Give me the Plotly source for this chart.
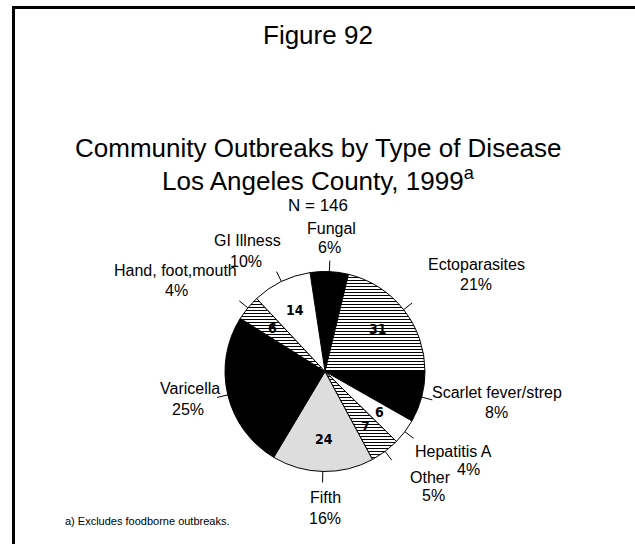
import math
import plotly.graph_objects as go

# ---------------- data ----------------
categories = ["Fungal", "Ectoparasites", "Scarlet fever/strep", "Hepatitis A",
              "Other", "Fifth", "Varicella", "Hand, foot,mouth", "GI Illness"]
counts = [9, 31, 12, 6, 7, 24, 37, 6, 14]
total_n = 146

# ---------------- styles ----------------
fill_colors = ["black", "white", "black", "white", "white", "#dddddd", "black", "white", "white"]
patterns = ["", "-", "", "", "-", "", "", "-", ""]
show_count = [c != "black" for c in fill_colors]

W, H = 635, 544
CX, CY, R = 325, 371.5, 100          # pie centre / radius in pixels
START_DEG = -8.6                      # clockwise from 12 o'clock

# label anchor positions (pixels) for the outside labels: (name xy, pct xy)
label_pos = {
    "Fungal": ((331, 229), (329, 248)),
    "Ectoparasites": ((476, 265), (476, 284)),
    "Scarlet fever/strep": ((497, 392), (496, 412)),
    "Hepatitis A": ((453, 451), (468, 469)),
    "Other": ((431, 477), (433, 495)),
    "Fifth": ((325, 497), (325, 518)),
    "Varicella": ((190, 388), (188, 409)),
    "Hand, foot,mouth": ((175, 270), (176, 290)),
    "GI Illness": ((247, 240), (246, 261)),
}

def px(x):
    return x / W

def py(y):
    return 1 - y / H

fig = go.Figure()
fig.add_trace(go.Pie(
    labels=categories,
    values=counts,
    sort=False,
    direction="clockwise",
    rotation=START_DEG,
    textinfo="none",
    hoverinfo="label+value+percent",
    marker=dict(
        colors=fill_colors,
        line=dict(color="black", width=1),
        pattern=dict(shape=patterns, fgcolor="black", bgcolor="white",
                     size=3, solidity=0.35),
    ),
    domain=dict(x=[px(CX - R), px(CX + R)], y=[py(CY + R), py(CY - R)]),
    showlegend=False,
))

shapes = []
annotations = []
lab_font = dict(family="Liberation Sans, Arial, sans-serif", size=16, color="black")
num_font = dict(family="DejaVu Sans Condensed, sans-serif",
                size=14, color="black", weight="bold")

cum = 0
for name, c, show in zip(categories, counts, show_count):
    mid = math.radians(START_DEG + (cum + c / 2) / total_n * 360)
    cum += c
    s, co = math.sin(mid), -math.cos(mid)
    # leader line
    x0, y0 = CX + R * s, CY + R * co
    x1, y1 = CX + (R + 11) * s, CY + (R + 11) * co
    shapes.append(dict(type="line", xref="paper", yref="paper",
                       x0=px(x0), y0=py(y0), x1=px(x1), y1=py(y1),
                       line=dict(color="black", width=1)))
    # count inside slice
    if show:
        xi, yi = CX + 0.68 * R * s, CY + 0.68 * R * co
        annotations.append(dict(x=px(xi), y=py(yi), xref="paper", yref="paper",
                                text=f"<b>{c}</b>", showarrow=False,
                                xanchor="center", yanchor="middle", font=num_font))
    # outside label
    (nx, ny), (qx, qy) = label_pos[name]
    pct = round(c / total_n * 100)
    annotations.append(dict(x=px(nx), y=py(ny), xref="paper", yref="paper", text=name,
                            showarrow=False, xanchor="center", yanchor="middle", font=lab_font))
    annotations.append(dict(x=px(qx), y=py(qy), xref="paper", yref="paper", text=f"{pct}%",
                            showarrow=False, xanchor="center", yanchor="middle", font=lab_font))

title_font = dict(family="Liberation Sans, Arial, sans-serif", size=26, color="black")
extra = [
    dict(x=px(318), y=py(35), text="Figure 92", font=title_font),
    dict(x=px(318), y=py(148), text="Community Outbreaks by Type of Disease", font=title_font),
    dict(x=px(318), y=py(179), text="Los Angeles County, 1999<sup>a</sup>", font=title_font),
    dict(x=px(318), y=py(205), text=f"N = {total_n}",
         font=dict(family="Liberation Sans, Arial, sans-serif", size=17, color="black")),
    dict(x=px(63), y=py(521), text="a) Excludes foodborne outbreaks.", xanchor="left",
         font=dict(family="Liberation Sans, Arial, sans-serif", size=11, color="black")),
]
for a in extra:
    a.setdefault("xref", "paper")
    a.setdefault("yref", "paper")
    a.setdefault("showarrow", False)
    a.setdefault("xanchor", "center")
    a.setdefault("yanchor", "middle")
annotations += extra

# frame (top and left rules)
shapes += [
    dict(type="line", xref="paper", yref="paper", x0=px(12), y0=py(7.5), x1=1, y1=py(7.5),
         line=dict(color="black", width=3)),
    dict(type="line", xref="paper", yref="paper", x0=px(13.5), y0=py(6), x1=px(13.5), y1=0,
         line=dict(color="black", width=3)),
]

fig.update_layout(
    width=W, height=H,
    margin=dict(l=0, r=0, t=0, b=0),
    paper_bgcolor="white", plot_bgcolor="white",
    shapes=shapes, annotations=annotations,
)

fig.write_html("out.html",
               config={"displayModeBar": False},
               post_script="document.body.style.margin='0';document.body.style.padding='0';")
